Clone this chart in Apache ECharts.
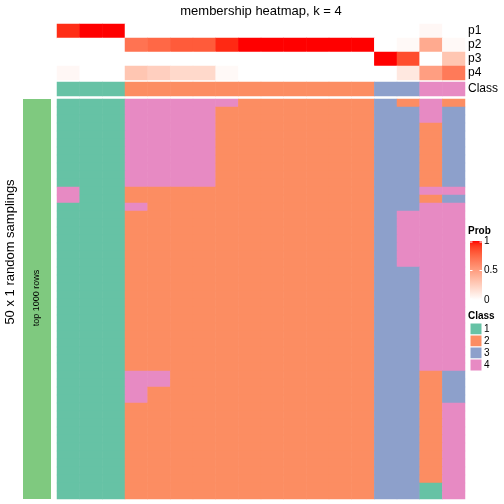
<!DOCTYPE html>
<html><head><meta charset="utf-8">
<script src="https://cdn.jsdelivr.net/npm/echarts@6/dist/echarts.min.js"></script>
<style>html,body{margin:0;padding:0;background:#fff}#c{width:504px;height:504px}</style>
</head><body><div id="c"></div>
<script>
// ---------------- data ----------------
const samples = ['s1','s2','s3','s4','s5','s6','s7','s8','s9','s10','s11','s12','s13','s14','s15','s16','s17','s18'];
const probRows = ['p1','p2','p3','p4'];
const p1 = [0.94,1,1,0,0,0,0,0,0,0,0,0,0,0,0,0,0.04,0];
const p2 = [0,0,0,0.7,0.75,0.8,0.8,0.95,1,1,1,1,1,1,0,0.03,0.44,0.03];
const p3 = [0,0,0,0,0,0,0,0,0,0,0,0,0,0,1,0.85,0,0.3];
const p4 = [0.04,0,0,0.3,0.25,0.2,0.2,0.03,0,0,0,0,0,0,0,0.12,0.5,0.67];
const classRow = [1,1,1,2,2,2,2,2,2,2,2,2,2,2,3,3,4,4];
// 50 random samplings (rows), each string = class of the 18 samples
const samplingRows = [
 "111444442222223242",
 "111444422222223343",
 "111444422222223343",
 "111444422222223323",
 "111444422222223323",
 "111444422222223323",
 "111444422222223323",
 "111444422222223323",
 "111444422222223323",
 "111444422222223323",
 "111444422222223323",
 "411222222222223344",
 "411222222222223323",
 "111422222222223344",
 "111222222222223444",
 "111222222222223444",
 "111222222222223444",
 "111222222222223444",
 "111222222222223444",
 "111222222222223444",
 "111222222222223444",
 "111222222222223344",
 "111222222222223344",
 "111222222222223344",
 "111222222222223344",
 "111222222222223344",
 "111222222222223344",
 "111222222222223344",
 "111222222222223344",
 "111222222222223344",
 "111222222222223344",
 "111222222222223344",
 "111222222222223344",
 "111222222222223344",
 "111442222222223323",
 "111442222222223323",
 "111422222222223323",
 "111422222222223323",
 "111222222222223324",
 "111222222222223324",
 "111222222222223324",
 "111222222222223324",
 "111222222222223324",
 "111222222222223324",
 "111222222222223324",
 "111222222222223324",
 "111222222222223324",
 "111222222222223324",
 "111222222222223314",
 "111222222222223314"
];
const classNames = ['1','2','3','4'];
const probTicks = [1, 0.5, 0];
const probTickLabels = ['1','0.5','0'];
const titleText = 'membership heatmap, k = 4';
const rowTitle = '50 x 1 random samplings';
const sliceLabel = 'top 1000 rows';

// ---------------- styles ----------------
const classColors = ['#66C2A5','#FC8D62','#8DA0CB','#E78AC3'];
const FONT = 'Liberation Sans, Arial, Helvetica, sans-serif';

// LAB interpolation white -> red (like colorRamp2)
function s2l(c){c/=255;return c<=0.04045?c/12.92:Math.pow((c+0.055)/1.055,2.4);}
function l2s(c){c=c<=0.0031308?12.92*c:1.055*Math.pow(c,1/2.4)-0.055;return Math.max(0,Math.min(255,Math.round(c*255)));}
const Wn=[0.95047,1,1.08883];
function f(t){return t>0.008856?Math.cbrt(t):7.787*t+16/116;}
function fi(t){return t>0.206893?t*t*t:(t-16/116)/7.787;}
function rgb2lab(r,g,b){r=s2l(r);g=s2l(g);b=s2l(b);
 const X=(0.4124*r+0.3576*g+0.1805*b)/Wn[0],Y=(0.2126*r+0.7152*g+0.0722*b)/Wn[1],Z=(0.0193*r+0.1192*g+0.9505*b)/Wn[2];
 return [116*f(Y)-16,500*(f(X)-f(Y)),200*(f(Y)-f(Z))];}
function lab2rgb(L,a,b){const fy=(L+16)/116,fx=fy+a/500,fz=fy-b/200;
 const X=fi(fx)*Wn[0],Y=fi(fy)*Wn[1],Z=fi(fz)*Wn[2];
 const r=3.2406*X-1.5372*Y-0.4986*Z,g=-0.9689*X+1.8758*Y+0.0415*Z,bb=0.0557*X-0.2040*Y+1.0570*Z;
 return 'rgb('+l2s(r)+','+l2s(g)+','+l2s(bb)+')';}
const labW=rgb2lab(255,255,255),labR=rgb2lab(255,0,0);
const rampStops=[];
for(let i=0;i<=20;i++){const t=i/20;rampStops.push(lab2rgb(labW[0]+(labR[0]-labW[0])*t,labW[1]+(labR[1]-labW[1])*t,labW[2]+(labR[2]-labW[2])*t));}

// ---------------- build series data ----------------
const probData=[];
[p1,p2,p3,p4].forEach((arr,r)=>arr.forEach((v,c)=>probData.push([c,r,v])));
const classData=classRow.map((v,c)=>[c,0,v]);
const mainData=[];
samplingRows.forEach((s,r)=>{for(let c=0;c<s.length;c++)mainData.push([c,r,+s[c]]);});
const mainRowCats=samplingRows.map((_,i)=>'r'+(i+1));

const L=57,W=408;
const chart=echarts.init(document.getElementById('c'),null,{renderer:'canvas'});
chart.setOption({
 animation:false,
 grid:[
  {left:L,top:24,width:W,height:56},
  {left:L,top:82,width:W,height:14},
  {left:L,top:99,width:W,height:400}
 ],
 xAxis:[
  {type:'category',data:samples,gridIndex:0,show:false},
  {type:'category',data:samples,gridIndex:1,show:false},
  {type:'category',data:samples,gridIndex:2,show:false}
 ],
 yAxis:[
  {type:'category',data:probRows,gridIndex:0,inverse:true,position:'right',
   axisLine:{show:false},axisTick:{show:false},splitLine:{show:false},
   axisLabel:{interval:0,margin:3,fontSize:12,color:'#000',fontFamily:FONT}},
  {type:'category',data:['Class'],gridIndex:1,position:'right',
   axisLine:{show:false},axisTick:{show:false},splitLine:{show:false},
   axisLabel:{interval:0,margin:3,fontSize:12,color:'#000',fontFamily:FONT}},
  {type:'category',data:mainRowCats,gridIndex:2,inverse:true,show:false}
 ],
 visualMap:[
  {type:'continuous',show:false,min:0,max:1,dimension:2,seriesIndex:0,inRange:{color:rampStops}},
  {type:'piecewise',show:false,dimension:2,seriesIndex:[1,2],
   pieces:classNames.map((n,i)=>({value:+n,color:classColors[i]}))}
 ],
 series:[
  {type:'heatmap',xAxisIndex:0,yAxisIndex:0,data:probData,emphasis:{disabled:true},progressive:0},
  {type:'heatmap',xAxisIndex:1,yAxisIndex:1,data:classData,emphasis:{disabled:true},progressive:0},
  {type:'heatmap',xAxisIndex:2,yAxisIndex:2,data:mainData,emphasis:{disabled:true},progressive:0}
 ]
});

// ---------------- decorations / legends ----------------
const gradStops=rampStops.slice().reverse().map((c,i,a)=>({offset:i/(a.length-1),color:c}));
const barX=470,barTop=241,barH=59,barW=12;
const g=[];
g.push({type:'text',x:261,y:11,style:{text:titleText,font:'13px '+FONT,fill:'#000',textAlign:'center',textVerticalAlign:'middle'}});
g.push({type:'rect',shape:{x:23,y:99,width:28,height:400},style:{fill:'#7FC97F'}});
g.push({type:'text',x:37,y:298,rotation:Math.PI/2,style:{text:sliceLabel,font:'9px '+FONT,fill:'#000',textAlign:'center',textVerticalAlign:'middle'}});
g.push({type:'text',x:10,y:252,rotation:Math.PI/2,style:{text:rowTitle,font:'13px '+FONT,fill:'#000',textAlign:'center',textVerticalAlign:'middle'}});
// Prob legend
g.push({type:'text',x:468,y:231,style:{text:'Prob',font:'bold 10px '+FONT,fill:'#000',textVerticalAlign:'middle'}});
g.push({type:'rect',shape:{x:barX,y:barTop,width:barW,height:barH},style:{fill:new echarts.graphic.LinearGradient(0,0,0,1,gradStops)}});
probTicks.forEach((v,i)=>{
 const y=barTop+(1-v)*barH;
 const yy=Math.min(Math.max(y,barTop+1),barTop+barH-1);
 g.push({type:'line',shape:{x1:barX,y1:yy,x2:barX+2.5,y2:yy},style:{stroke:'#fff',lineWidth:1}});
 g.push({type:'line',shape:{x1:barX+barW-2.5,y1:yy,x2:barX+barW,y2:yy},style:{stroke:'#fff',lineWidth:1}});
 g.push({type:'text',x:484,y:y,style:{text:probTickLabels[i],font:'10px '+FONT,fill:'#000',textVerticalAlign:'middle'}});
});
// Class legend
g.push({type:'text',x:468,y:316,style:{text:'Class',font:'bold 10px '+FONT,fill:'#000',textVerticalAlign:'middle'}});
classNames.forEach((n,i)=>{
 const y=323+i*12;
 g.push({type:'rect',shape:{x:barX,y:y,width:12,height:12},style:{fill:classColors[i],stroke:'#fff',lineWidth:1}});
 g.push({type:'text',x:484,y:y+6,style:{text:n,font:'10px '+FONT,fill:'#000',textVerticalAlign:'middle'}});
});
chart.setOption({graphic:g});
</script></body></html>
